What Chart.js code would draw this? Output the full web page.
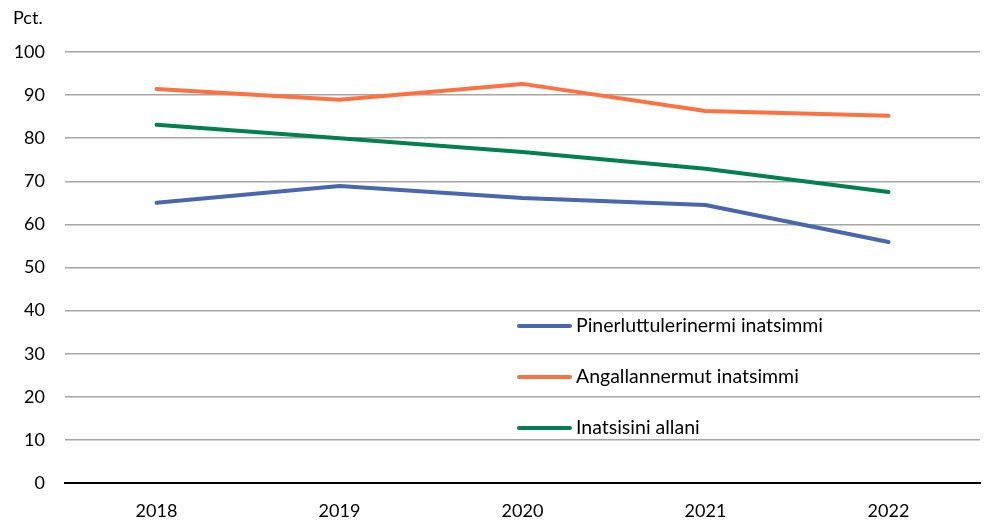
<!DOCTYPE html>
<html>
<head>
<meta charset="utf-8">
<script src="https://cdn.jsdelivr.net/npm/chart.js@4/dist/chart.umd.min.js"></script>
<style>
html,body{margin:0;padding:0;background:#fff;}
#wrap{width:986px;height:520px;position:relative;}
</style>
</head>
<body>
<div id="wrap"><canvas id="c" width="986" height="520"></canvas></div>
<script>
const categories = ['2018', '2019', '2020', '2021', '2022'];
const seriesNames = ['Pinerluttulerinermi inatsimmi', 'Angallannermut inatsimmi', 'Inatsisini allani'];
const pinerluttulerinermi = [65.0, 68.9, 66.1, 64.5, 55.9];
const angallannermut = [91.4, 88.9, 92.6, 86.3, 85.2];
const inatsisini = [83.1, 80.0, 76.8, 72.9, 67.5];
const yTicks = [0, 10, 20, 30, 40, 50, 60, 70, 80, 90, 100];
const yTitle = 'Pct.';

const colors = ['#4a66ac', '#fd7142', '#00804f'];
const FONT = 'Lato, "Open Sans", sans-serif';

const legendInside = {
  id: 'legendInside',
  afterDatasetsDraw(chart) {
    const ctx = chart.ctx;
    ctx.save();
    const ys = [326, 377, 428];
    chart.data.datasets.forEach((ds, i) => {
      ctx.strokeStyle = ds.borderColor;
      ctx.lineWidth = 4;
      ctx.lineCap = 'round';
      ctx.beginPath();
      ctx.moveTo(519, ys[i]);
      ctx.lineTo(570, ys[i]);
      ctx.stroke();
      ctx.fillStyle = '#000';
      ctx.font = '19.5px ' + FONT;
      ctx.textBaseline = 'middle';
      ctx.textAlign = 'left';
      ctx.fillText(ds.label, 576, ys[i]);
    });
    ctx.font = '18px ' + FONT;
    ctx.textBaseline = 'middle';
    ctx.fillText(yTitle, 13, 18);
    ctx.restore();
  }
};

new Chart(document.getElementById('c'), {
  type: 'line',
  data: {
    labels: categories,
    datasets: [
      {label: seriesNames[0], data: pinerluttulerinermi, borderColor: colors[0]},
      {label: seriesNames[1], data: angallannermut, borderColor: colors[1]},
      {label: seriesNames[2], data: inatsisini, borderColor: colors[2]}
    ].map(d => Object.assign(d, {borderWidth: 4, pointRadius: 0, borderCapStyle: 'round', borderJoinStyle: 'round', fill: false, tension: 0}))
  },
  options: {
    responsive: false,
    animation: false,
    devicePixelRatio: 1,
    layout: {padding: {top: 52, right: 6, left: 0, bottom: 0}},
    plugins: {legend: {display: false}, tooltip: {enabled: false}},
    scales: {
      x: {
        offset: true,
        grid: {display: false},
        border: {display: true, color: '#000', width: 2},
        ticks: {color: '#000', font: {family: FONT, size: 18}, padding: 9, maxRotation: 0},
        afterFit(s) { s.height = 37; }
      },
      y: {
        min: 0, max: 100,
        afterBuildTicks(s) { s.ticks = yTicks.map(v => ({value: v})); },
        grid: {
          color: c => c.tick && c.tick.value === 0 ? '#000' : '#a6a6a6',
          lineWidth: c => c.tick && c.tick.value === 0 ? 2 : 1.5,
          drawTicks: false
        },
        border: {display: false},
        ticks: {color: '#000', font: {family: FONT, size: 18}, padding: 20},
        afterFit(s) { s.width = 65; }
      }
    }
  },
  plugins: [legendInside]
});
</script>
</body>
</html>
